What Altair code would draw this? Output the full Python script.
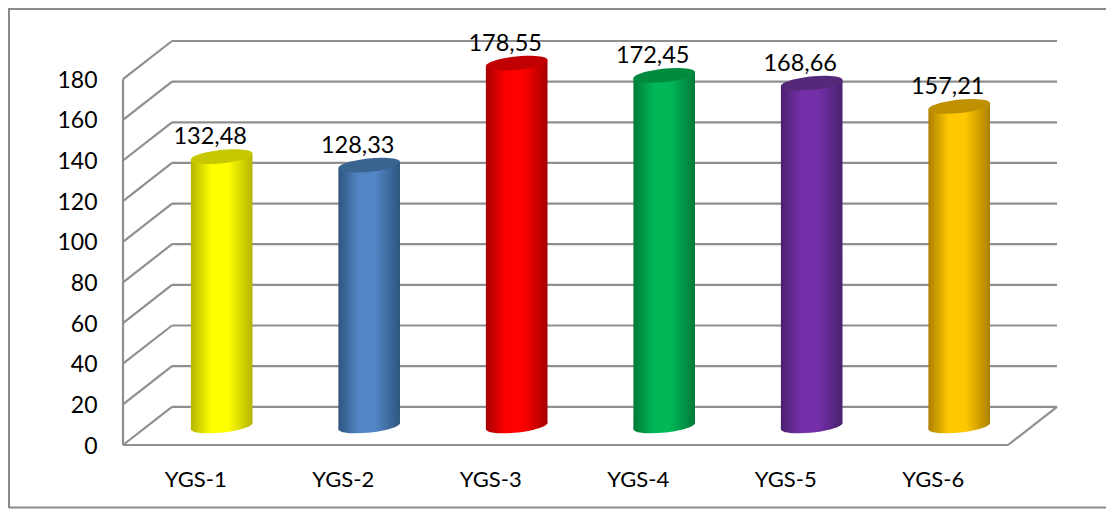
import altair as alt
import pandas as pd

categories = ["YGS-1", "YGS-2", "YGS-3", "YGS-4", "YGS-5", "YGS-6"]
values = [132.48, 128.33, 178.55, 172.45, 168.66, 157.21]
labels = ["132,48", "128,33", "178,55", "172,45", "168,66", "157,21"]
bright = ["#FFFF00", "#5285C6", "#FF0000", "#00B858", "#7430A8", "#FFC800"]
edge = ["#B4B400", "#2F5580", "#A80000", "#007A38", "#4A2170", "#AD8000"]
cap = ["#C8C800", "#3A6490", "#C00000", "#008A3E", "#55297A", "#BF9000"]
ticks = list(range(0, 200, 20))

DX = 0.332   # depth of the 3-D box in category units
DY = 18.8    # depth of the 3-D box in value units
HALF = 0.2088  # half width of a cylinder in category units
TILT = 1.53    # rise of the cylinder rim at its sides in value units
N = len(categories)
W, H = 934, 404
GRID = "#8F8F8F"
FONT = "Lato"
ELLIPSE = "M-0.9945,0.1045A1,0.213,-6,1,1,0.9945,-0.1045A1,0.213,-6,1,1,-0.9945,0.1045Z"

xs = alt.Scale(domain=[0, N + DX], nice=False, zero=False, padding=0)
ys = alt.Scale(domain=[0, 180 + DY], nice=False, zero=False, padding=0)

frame_df = pd.DataFrame({"a": [0]})
frame = [
    alt.Chart(frame_df).mark_rule(color="#8A8A8A", strokeWidth=2, clip=False).encode(
        x=alt.value(-114), x2=alt.value(983), y=alt.value(-32), y2=alt.value(-32)),
    alt.Chart(frame_df).mark_rule(color="#8A8A8A", strokeWidth=2, clip=False).encode(
        x=alt.value(-114), x2=alt.value(-114), y=alt.value(-33), y2=alt.value(467)),
    alt.Chart(frame_df).mark_rule(color="#8A8A8A", strokeWidth=2, clip=False).encode(
        x=alt.value(-114), x2=alt.value(983), y=alt.value(466.5), y2=alt.value(466.5)),
]

axes_df = pd.DataFrame({"x": [0.5 + i for i in range(N)], "y": [0] * N})
axes = alt.Chart(axes_df).mark_point(opacity=0).encode(
    x=alt.X("x:Q", scale=xs, axis=alt.Axis(
        values=[0.5 + i for i in range(N)], labelExpr="'YGS-' + (datum.value + 0.5)",
        grid=False, ticks=False, domain=False, title=None, labelFont=FONT, labelFontSize=22,
        labelColor="#000000", labelPadding=24, labelOffset=-1.5)),
    y=alt.Y("y:Q", scale=ys, axis=alt.Axis(
        values=ticks, grid=False, ticks=False, domain=False, title=None, labelFont=FONT,
        labelFontSize=23, labelColor="#000000", labelPadding=26, labelOffset=1)),
)

rows = []
for v in ticks:
    rows.append(dict(x=0, x2=DX, y=v, y2=v + DY))
    rows.append(dict(x=DX, x2=N + DX, y=v + DY, y2=v + DY))
rows.append(dict(x=0, x2=0, y=0, y2=180))
rows.append(dict(x=0, x2=N, y=0, y2=0))
rows.append(dict(x=N, x2=N + DX, y=0, y2=DY))
grid = alt.Chart(pd.DataFrame(rows)).mark_rule(color=GRID, strokeWidth=2.2).encode(
    x=alt.X("x:Q", scale=xs), x2="x2:Q", y=alt.Y("y:Q", scale=ys), y2="y2:Q"
)

layers = frame + [axes, grid]
for i, c in enumerate(categories):
    cx = i + 0.5 + DX / 2 + 0.003
    top = values[i] + DY / 2
    low = DY / 2
    d = pd.DataFrame({"x": [cx], "v": [top], "b": [low], "t": [labels[i]]})
    body = pd.DataFrame({
        "x": [cx - HALF, cx + HALF],
        "v": [top - TILT, top + TILT],
        "b": [low - TILT, low + TILT],
    })
    grad = alt.Gradient(
        gradient="linear", x1=0, x2=1, y1=0, y2=0,
        stops=[
            alt.GradientStop(color=edge[i], offset=0),
            alt.GradientStop(color=bright[i], offset=0.33),
            alt.GradientStop(color=bright[i], offset=0.6),
            alt.GradientStop(color=edge[i], offset=1),
        ],
    )
    base = alt.Chart(d)
    layers.append(base.mark_point(shape=ELLIPSE, size=3844, filled=True, fill=grad, opacity=1, strokeWidth=0).encode(
        x=alt.X("x:Q", scale=xs), y=alt.Y("b:Q", scale=ys)))
    layers.append(alt.Chart(body).mark_area(fill=grad, opacity=1).encode(
        x=alt.X("x:Q", scale=xs), y=alt.Y("v:Q", scale=ys), y2="b:Q"))
    layers.append(base.mark_point(shape=ELLIPSE, size=3844, filled=True, fill=cap[i], opacity=1, strokeWidth=0).encode(
        x=alt.X("x:Q", scale=xs), y=alt.Y("v:Q", scale=ys)))
    layers.append(base.mark_text(font=FONT, fontSize=23.5, color="#000000", dx=-11.5, dy=-12.5, baseline="alphabetic", align="center").encode(
        x=alt.X("x:Q", scale=xs), y=alt.Y("v:Q", scale=ys), text="t:N"))

chart = alt.layer(*layers).resolve_scale(x="shared", y="shared").properties(
    width=W, height=H, padding={"left": 115, "top": 33, "right": 49, "bottom": 64},
    autosize=alt.AutoSizeParams(type="none"), background="#FFFFFF",
).configure_view(stroke=None)

chart.save("out.html", embed_options={"renderer": "svg", "actions": False})
